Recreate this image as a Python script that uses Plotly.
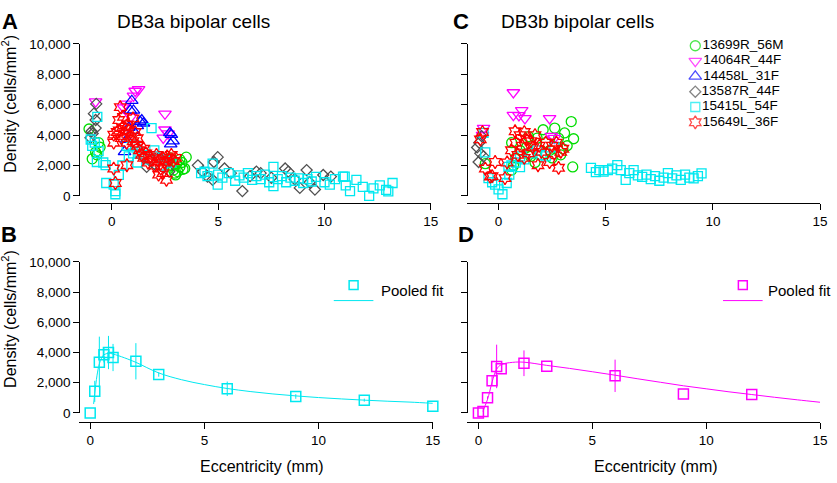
import plotly.graph_objects as go

W, H = 837, 483

# ---------------- data ----------------
series_names = ["13699R_56M", "14064R_44F", "14458L_31F", "13587R_44F", "15415L_54F", "15649L_36F"]
series_colors = ["#00DD00", "#FF00FF", "#0000FF", "#505050", "#00E8F0", "#FF0000"]
series_symbols = ["circle-open", "triangle-down-open", "triangle-up-open", "diamond-open", "square-open", "hexagram-open"]
series_sizes = [10, 11, 11, 8.5, 9, 10]

# Panel A (DB3a) individual retinas
a_green_x = [-1.07, -0.92, -0.76, -0.62, -0.7, -0.55, 2.65, 2.8, 2.9, 3.0, 3.1, 3.2, 3.3, 3.43, 3.5, 2.96, 3.05, 3.2, 3.35, 2.75]
a_green_y = [4400, 2440, 2870, 3500, 2700, 3200, 2300, 2000, 1700, 1380, 1600, 1900, 2200, 1800, 2550, 1500, 2100, 2400, 1750, 2500]
a_magenta_x = [-0.76, 0.64, 0.55, 1.02, 1.1, 1.26, 2.5, 2.5, 2.42, 2.65, 0.9]
a_magenta_y = [6200, 6050, 5800, 6580, 6900, 7000, 5400, 4350, 3820, 4100, 5200]
a_blue_x = [0.94, 1.02, 0.87, 1.33, 1.49, 1.41, 0.71, 0.8, 2.73, 2.88, 2.8, 2.77, 1.0, 1.2, 0.6]
a_blue_y = [6260, 5620, 5630, 4890, 4780, 4990, 3710, 4500, 4140, 3610, 4030, 3400, 4300, 4600, 2900]
a_gray_x = [-0.73, -0.84, -0.76, -0.76, -0.95, -1.0, -0.9, 1.64, 1.8, 2.0, 2.2, 2.5, 1.5, 2.7, 4.05, 4.28,
            4.98, 4.8, 4.5, 4.74, 5.3, 5.6, 6.14, 6.5, 7.0, 7.5, 8.15, 8.3, 8.84, 9.16, 9.55, 9.94, 10.3, 8.6, 9.3, 6.8]
a_gray_y = [6050, 5410, 4990, 4460, 4250, 3820, 4100, 1910, 2300, 2100, 2500, 2200, 2600, 1600, 2010, 1590,
            2550, 2230, 1270, 1060, 1800, 1500, 320, 1300, 1500, 1200, 1800, 1600, 530, 1700, 420, 1380, 1270, 1100, 900, 1600]
a_cyan_x = [-0.68, -0.99, -0.92, -0.62, -0.7, -0.8, -0.29, -0.4, -0.26, 0.09, 0.17, 0.17, 0.33, 0.5, 0.7, 0.9,
            1.1, 1.3, 1.5, 1.87, 2.0, 2.2, 2.5, 1.7, 2.8, 1.0, 0.8, 1.2, 2.4,
            4.2, 4.36, 4.74, 4.98, 4.5, 5.0, 5.2, 5.5, 5.8, 6.0, 6.2, 6.4, 6.6, 6.8, 7.0, 7.2, 7.4, 7.6, 7.6,
            7.8, 8.0, 8.2, 8.4, 8.6, 8.8, 9.0, 9.2, 9.4, 9.6, 10.0, 10.25, 10.5, 10.87, 10.95, 11.2, 11.5,
            11.8, 12.1, 12.3, 12.6, 12.9, 13.2, 13.0, 11.0]
a_cyan_y = [5200, 3710, 3290, 2950, 2230, 3500, 2020, 2200, 850, 750, 320, 110, 1380, 2000, 3300, 3800,
            3300, 2900, 2700, 4460, 3000, 2600, 2400, 2400, 2200, 2800, 2600, 2200, 2000,
            1500, 1590, 2120, 750, 1300, 1400, 1200, 1500, 1000, 1350, 1200, 1500, 1050, 1300, 1100, 1400, 900, 1910, 640,
            1100, 1300, 900, 1200, 1000, 1150, 850, 1100, 950, 1250, 900, 750, 1100, 1270, 1270, 320, 1060,
            600, 0, 500, 700, 400, 850, 300, 700]
a_red_x = [0.09, 0.17, 0.4, 0.33, 0.09, 0.09, 0.25, 0.45, 0.5, 0.55, 0.6, 0.7, 0.71, 0.75, 0.8, 0.9, 1.0, 1.0,
           1.1, 1.2, 1.3, 1.4, 1.5, 1.6, 1.7, 1.8, 1.9, 2.0, 2.1, 2.2, 2.3, 2.4, 2.5, 2.6, 2.57, 2.7, 2.8,
           2.9, 3.0, 2.4, 1.5, 1.2, 0.65, 0.35, 2.2]
a_red_y = [1800, 850, 5840, 4990, 4030, 3500, 4200, 3800, 4500, 5200, 4100, 3500, 2020, 4700, 4300, 3900, 5100, 3600,
           4200, 3300, 3000, 2700, 2500, 2800, 2200, 2600, 2400, 2000, 2700, 2300, 1800, 2500, 2200, 2600, 1060, 2400, 2700,
           2300, 2500, 1500, 3100, 3800, 4400, 4300, 1400]

# Panel C (DB3b) individual retinas
c_green_x = [-0.62, 0.61, 0.61, 0.7, 1.0, 1.3, 1.5, 1.8, 2.08, 2.2, 2.4, 2.62, 2.8, 3.08, 3.2, 3.39, 3.5, 3.46,
             2.9, 3.0, 2.5, 1.7, 2.2, 0.8, 1.4]
c_green_y = [2120, 3500, 1700, 2000, 3000, 3200, 2600, 3800, 4350, 3500, 3000, 4460, 3800, 4140, 3300, 4890, 3760, 1910,
             2700, 3100, 2500, 2200, 2800, 2500, 3900]
c_magenta_x = [-0.7, 0.69, 0.69, 1.08, 1.23, 0.95, 2.38, 2.46, 2.6, -0.75]
c_magenta_y = [4460, 6800, 5310, 5630, 5100, 5300, 5100, 3930, 3800, 4000]
c_blue_x = []
c_blue_y = []
c_gray_x = [-1.0, -0.9, -0.93, -0.79, -0.85, -0.7]
c_gray_y = [3190, 3500, 2230, 3930, 2800, 2600]
c_cyan_x = [-0.7, -0.62, -0.47, -0.3, -0.16, 0.0, 0.18, 0.38, 0.46, 0.6, 0.8, 1.0, 1.2, 1.5, 1.8, 2.2, 2.6, 0.5, 1.0, 2.0,
            4.31, 4.54, 4.7, 4.9, 5.1, 5.3, 5.54, 5.7, 5.93, 6.1, 6.3, 6.5, 6.7, 6.9, 7.1, 7.3, 7.5, 7.7, 7.9,
            8.1, 8.3, 8.5, 8.7, 8.9, 9.1, 9.3, 9.47]
c_cyan_y = [4140, 2870, 1170, 900, 750, 430, 110, 850, 1910, 2000, 2200, 2600, 2400, 2800, 3000, 2600, 3200, 1400, 1900, 2700,
            1850, 1570, 1700, 1600, 1700, 1800, 2020, 1700, 1060, 1500, 1700, 1350, 1250, 1400, 1100, 1300, 1000, 1200, 1500,
            1150, 1350, 1050, 1400, 1200, 1150, 1300, 1490]
c_red_x = [-0.85, -0.75, -0.62, -0.16, -0.39, -0.3, 0.3, 0.4, 0.77, 0.6, 0.8, 0.9, 1.0, 1.1, 1.2, 1.3, 1.4, 1.5, 1.6,
           1.7, 1.84, 1.9, 2.0, 2.2, 2.38, 2.5, 2.6, 2.8, 2.9, 3.0, 1.2, 2.7]
c_red_y = [3720, 4200, 1800, 2230, 1270, 1300, 1170, 2200, 4250, 3000, 3500, 2700, 4000, 3300, 4200, 3700, 2800, 3600, 3200,
           4000, 2020, 3300, 2900, 3500, 2230, 3300, 2800, 1850, 2900, 3100, 2500, 3500]

# Panel B (DB3a pooled)
b_x = [0, 0.2, 0.4, 0.6, 0.8, 1.0, 2, 3, 6, 9, 12, 15]
b_y = [0, 1430, 3350, 3850, 4000, 3670, 3420, 2550, 1600, 1090, 850, 450]
b_err = [0, 700, 1700, 500, 1100, 900, 1200, 150, 480, 150, 100, 0]
b_fit_x = [0.15, 0.2, 0.3, 0.4, 0.5, 0.6, 0.8, 1.0, 1.5, 2, 3, 4, 5, 6, 7, 8, 9, 10, 11, 12, 13, 14, 15]
b_fit_y = [600, 1300, 2500, 3250, 3650, 3850, 3950, 3900, 3650, 3350, 2650, 2200, 1880, 1620, 1420, 1260, 1130,
           1020, 930, 850, 780, 720, 640]

# Panel D (DB3b pooled)
d_x = [0, 0.2, 0.4, 0.6, 0.8, 1.0, 2, 3, 6, 9, 12]
d_y = [0, 100, 1000, 2140, 3080, 2930, 3290, 3100, 2460, 1260, 1220]
d_err = [0, 0, 100, 300, 1440, 0, 850, 0, 1070, 0, 0]
d_fit_x = [0.2, 0.3, 0.4, 0.5, 0.6, 0.8, 1.0, 1.5, 2, 3, 4, 5, 6, 7, 8, 9, 10, 11, 12, 13, 14, 15]
d_fit_y = [100, 500, 900, 1450, 2050, 2900, 3200, 3350, 3360, 3150, 2950, 2730, 2500, 2260, 2030, 1800, 1600,
           1400, 1220, 1040, 870, 710]

y_ticks = [0, 2000, 4000, 6000, 8000, 10000]
y_ticktext = ["0", "2,000", "4,000", "6,000", "8,000", "10,000"]
x_ticks = [0, 5, 10, 15]

FONT = "Liberation Sans, Arial, Helvetica, sans-serif"


def px(x):
    return x / W


def py(y):
    return 1 - y / H


fig = go.Figure()

a_sets = [(a_green_x, a_green_y), (a_magenta_x, a_magenta_y), (a_blue_x, a_blue_y),
          (a_gray_x, a_gray_y), (a_cyan_x, a_cyan_y), (a_red_x, a_red_y)]
c_sets = [(c_green_x, c_green_y), (c_magenta_x, c_magenta_y), (c_blue_x, c_blue_y),
          (c_gray_x, c_gray_y), (c_cyan_x, c_cyan_y), (c_red_x, c_red_y)]

for sets, xa, ya in [(a_sets, "x", "y"), (c_sets, "x3", "y3")]:
    for i, (xs, ys) in enumerate(sets):
        if not xs:
            continue
        fig.add_trace(go.Scatter(
            x=xs, y=ys, mode="markers", xaxis=xa, yaxis=ya, showlegend=False, cliponaxis=False,
            name=series_names[i],
            marker=dict(symbol=series_symbols[i], size=series_sizes[i], color=series_colors[i],
                        line=dict(width=1.3, color=series_colors[i]))))

# Legend for panel C (built on an invisible helper axis, rows by series index)
fig.add_trace(go.Scatter(
    x=[0] * len(series_names), y=list(range(len(series_names))), xaxis="x5", yaxis="y5",
    mode="markers+text", text=series_names, textposition="middle right", cliponaxis=False,
    showlegend=False, hoverinfo="skip",
    textfont=dict(family=FONT, size=13.5, color="black"),
    marker=dict(symbol=series_symbols, size=series_sizes, color=series_colors,
                line=dict(width=1.3, color=series_colors))))

# Pooled panels
for (xs, ys, er, fx, fy, col, xa, ya) in [
        (b_x, b_y, b_err, b_fit_x, b_fit_y, "#00E8F0", "x2", "y2"),
        (d_x, d_y, d_err, d_fit_x, d_fit_y, "#FF00FF", "x4", "y4")]:
    fig.add_trace(go.Scatter(x=fx, y=fy, mode="lines", line=dict(color=col, width=1, shape="spline"),
                             xaxis=xa, yaxis=ya, showlegend=False, cliponaxis=False))
    fig.add_trace(go.Scatter(
        x=xs, y=ys, mode="markers", xaxis=xa, yaxis=ya, showlegend=False, cliponaxis=False,
        error_y=dict(type="data", array=er, visible=True, color=col, thickness=1, width=0),
        marker=dict(symbol="square-open", size=10, color=col, line=dict(width=1.5, color=col))))

axis_common = dict(showline=True, linecolor="black", linewidth=1.2, ticks="outside", ticklen=6,
                   tickwidth=1.2, tickcolor="black", showgrid=False, zeroline=False,
                   tickfont=dict(family=FONT, size=13.5, color="black"))

top_dom = [py(195), py(38)]
bot_dom = [py(419), py(263)]

fig.update_layout(
    width=W, height=H, margin=dict(l=0, r=0, t=0, b=0),
    paper_bgcolor="white", plot_bgcolor="white",
    xaxis=dict(domain=[px(80), px(435)], range=[-1.53, 15], anchor="free", position=py(202),
               tickvals=x_ticks, **axis_common),
    yaxis=dict(domain=top_dom, range=[0, 10000], anchor="free", position=px(80),
               tickvals=y_ticks, ticktext=y_ticktext, **axis_common),
    xaxis2=dict(domain=[px(80), px(437)], range=[-0.48, 15], anchor="free", position=py(428),
                tickvals=x_ticks, **axis_common),
    yaxis2=dict(domain=bot_dom, range=[0, 10000], anchor="free", position=px(80),
                tickvals=y_ticks, ticktext=y_ticktext, **axis_common),
    xaxis3=dict(domain=[px(472), px(828)], range=[-1.45, 15], anchor="free", position=py(202),
                tickvals=x_ticks, **axis_common),
    yaxis3=dict(domain=top_dom, range=[0, 10000], anchor="free", position=px(472),
                tickvals=y_ticks, showticklabels=False, **axis_common),
    xaxis4=dict(domain=[px(472), px(828)], range=[-0.48, 15], anchor="free", position=py(428),
                tickvals=x_ticks, **axis_common),
    yaxis4=dict(domain=bot_dom, range=[0, 10000], anchor="free", position=px(472),
                tickvals=y_ticks, showticklabels=False, **axis_common),
    xaxis5=dict(domain=[px(702), px(828)], range=[0, 1], visible=False, anchor="y5"),
    yaxis5=dict(domain=[py(119), py(40)], range=[5, 0], visible=False, anchor="x5"),
)

ann = []
def text(x, y, s, size, bold=False, xanchor="center", angle=0):
    ann.append(dict(x=px(x), y=py(y), xref="paper", yref="paper", text=("<b>%s</b>" % s) if bold else s,
                    showarrow=False, xanchor=xanchor, yanchor="middle", textangle=angle,
                    font=dict(family=FONT, size=size, color="black")))

text(10, 15, "A", 22, bold=True)
text(9.5, 235, "B", 22, bold=True)
text(465, 15, "C", 22, bold=True)
text(471, 235, "D", 22, bold=True)
text(195, 15, "DB3a bipolar cells", 19)
text(583, 15, "DB3b bipolar cells", 19)
text(9, 100, "Density (cells/mm<sup>2</sup>)", 16, angle=-90)
text(9, 322, "Density (cells/mm<sup>2</sup>)", 16, angle=-90)
text(265, 474, "Eccentricity (mm)", 16)
text(662, 474, "Eccentricity (mm)", 16)
text(383, 293, "Pooled fit", 15, xanchor="left")
text(773, 293, "Pooled fit", 15, xanchor="left")
fig.update_layout(annotations=ann)

shapes = []
for cx, col in [(357, "#00E8F0"), (750, "#FF00FF")]:
    shapes.append(dict(type="line", xref="paper", yref="paper", x0=px(cx - 20), x1=px(cx + 20),
                       y0=py(303), y1=py(303), line=dict(color=col, width=1)))
    shapes.append(dict(type="rect", xref="paper", yref="paper", x0=px(cx - 4.5), x1=px(cx + 4.5),
                       y0=py(291.5), y1=py(282.5), line=dict(color=col, width=1.5)))
fig.update_layout(shapes=shapes)

# the page's default 8px body margin would push the fixed-size figure out of the window
fig.write_html("out.html", config={"displayModeBar": False},
               post_script="document.body.style.margin='0';")
